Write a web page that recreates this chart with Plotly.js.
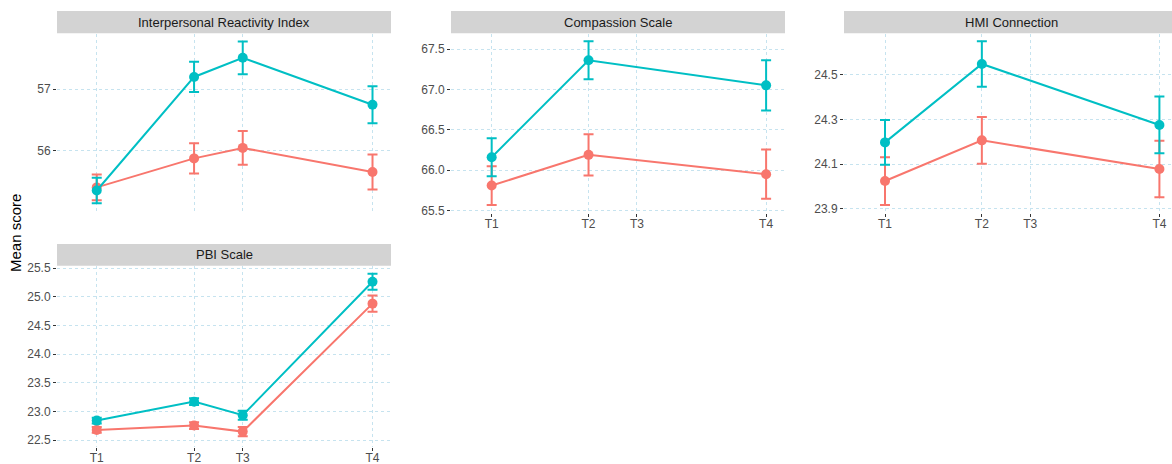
<!DOCTYPE html>
<html>
<head>
<meta charset="utf-8">
<script src="https://cdn.plot.ly/plotly-3.0.1.min.js"></script>
<style>html,body{margin:0;padding:0;background:#fff;}#chart{width:1172px;height:464px;}</style>
</head>
<body>
<div id="chart"></div>
<script>
// ---- data ----
const timeLabels = ['T1', 'T2', 'T3', 'T4'];
const timeWeeks = [0, 6, 9, 17];
const timeWeeks3 = [0, 6, 17];

const panelTitles = ['Interpersonal Reactivity Index', 'Compassion Scale', 'HMI Connection', 'PBI Scale'];

const iriRed = [55.41, 55.88, 56.05, 55.66];
const iriRedErr = [0.21, 0.245, 0.275, 0.285];
const iriTeal = [55.36, 57.20, 57.51, 56.75];
const iriTealErr = [0.205, 0.245, 0.265, 0.30];

const compRed = [65.81, 66.19, 65.95];
const compRedErr = [0.24, 0.255, 0.305];
const compTeal = [66.16, 67.36, 67.05];
const compTealErr = [0.235, 0.235, 0.31];

const hmiRed = [24.024, 24.206, 24.078];
const hmiRedErr = [0.107, 0.105, 0.126];
const hmiTeal = [24.197, 24.548, 24.275];
const hmiTealErr = [0.10, 0.102, 0.127];

const pbiRed = [22.68, 22.755, 22.65, 24.883];
const pbiRedErr = [0.05, 0.06, 0.08, 0.14];
const pbiTeal = [22.842, 23.173, 22.936, 25.266];
const pbiTealErr = [0.05, 0.06, 0.08, 0.14];

const RED = '#F8766D', TEAL = '#00BFC4';

function tr(x, y, err, color, ax) {
  return {
    type: 'scatter', mode: 'lines+markers', x: x, y: y,
    xaxis: 'x' + ax, yaxis: 'y' + ax, showlegend: false, hoverinfo: 'skip',
    line: {color: color, width: 2},
    marker: {color: color, size: 10},
    error_y: {type: 'data', array: err, visible: true, color: color, thickness: 2, width: 5}
  };
}

const data = [
  tr(timeWeeks, iriRed, iriRedErr, RED, ''),
  tr(timeWeeks, iriTeal, iriTealErr, TEAL, ''),
  tr(timeWeeks3, compRed, compRedErr, RED, '2'),
  tr(timeWeeks3, compTeal, compTealErr, TEAL, '2'),
  tr(timeWeeks3, hmiRed, hmiRedErr, RED, '3'),
  tr(timeWeeks3, hmiTeal, hmiTealErr, TEAL, '3'),
  tr(timeWeeks, pbiRed, pbiRedErr, RED, '4'),
  tr(timeWeeks, pbiTeal, pbiTealErr, TEAL, '4')
];

const W = 1172, H = 464;
const fx = p => p / W;
const fy = p => (H - p) / H;

const gridCol = '#c6e3ef';
const tickFont = {family: 'Liberation Sans, Arial, sans-serif', size: 12, color: '#4d4d4d'};

function xax(d0, d1, range, showLabels, anchor) {
  return {
    domain: [fx(d0), fx(d1)], range: range, anchor: anchor,
    tickmode: 'array', tickvals: timeWeeks, ticktext: timeLabels,
    showticklabels: showLabels, ticks: showLabels ? 'outside' : '', ticklen: 3, tickcolor: '#333',
    ticklabelstandoff: -3,
    showgrid: true, gridcolor: gridCol, griddash: 'dot', gridwidth: 1,
    zeroline: false, showline: false, tickfont: tickFont, fixedrange: true
  };
}
function yax(t0, t1, range, tickvals, ticktext, anchor) {
  return {
    domain: [fy(t1), fy(t0)], range: range, anchor: anchor,
    tickmode: 'array', tickvals: tickvals, ticktext: ticktext,
    ticks: 'outside', ticklen: 3, tickcolor: '#333',
    showgrid: true, gridcolor: gridCol, griddash: 'dot', gridwidth: 1,
    zeroline: false, showline: false, tickfont: tickFont, fixedrange: true
  };
}

const topT = 34, topB = 213, botT = 266, botB = 446.5;

const layout = {
  width: W, height: H,
  margin: {l: 0, r: 0, t: 0, b: 0},
  paper_bgcolor: '#fff', plot_bgcolor: '#fff',
  font: {family: 'Liberation Sans, Arial, sans-serif'},
  xaxis: xax(57, 391, [-2.45, 18.14], false, 'y'),
  yaxis: yax(topT, topB, [54.995, 57.896], [56, 57], ['56', '57'], 'x'),
  xaxis2: xax(451, 785, [-2.52, 18.17], true, 'y2'),
  yaxis2: yax(topT, topB, [65.47, 67.686], [65.5, 66, 66.5, 67, 67.5], ['65.5', '66.0', '66.5', '67.0', '67.5'], 'x2'),
  xaxis3: xax(844, 1172, [-2.54, 17.78], true, 'y3'),
  yaxis3: yax(topT, topB, [23.881, 24.682], [23.9, 24.1, 24.3, 24.5], ['23.9', '24.1', '24.3', '24.5'], 'x3'),
  xaxis4: xax(57, 391, [-2.45, 18.14], true, 'y4'),
  yaxis4: yax(botT, botB, [22.39, 25.54], [22.5, 23, 23.5, 24, 24.5, 25, 25.5], ['22.5', '23.0', '23.5', '24.0', '24.5', '25.0', '25.5'], 'x4'),
  shapes: [],
  annotations: []
};

const strips = [
  [57, 391, 11, 33.3, panelTitles[0]],
  [451, 785, 11, 33.3, panelTitles[1]],
  [844, 1172, 11, 33.3, panelTitles[2]],
  [57, 391, 244, 265.7, panelTitles[3]]
];
const stripCenters = [224, 618, 1011, 224];
strips.forEach((s, i) => {
  layout.shapes.push({type: 'rect', xref: 'paper', yref: 'paper', x0: fx(s[0]), x1: fx(s[1]), y0: fy(s[3]), y1: fy(s[2]),
    fillcolor: '#d3d3d3', line: {width: 0}, layer: 'below'});
  layout.annotations.push({xref: 'paper', yref: 'paper', x: fx(stripCenters[i]), y: fy((s[2] + s[3]) / 2),
    xanchor: 'center', yanchor: 'middle', showarrow: false, text: s[4],
    font: {family: 'Liberation Sans, Arial, sans-serif', size: 13, color: '#1a1a1a'}});
});
layout.annotations.push({xref: 'paper', yref: 'paper', x: fx(15), y: fy(233), xanchor: 'center', yanchor: 'middle',
  showarrow: false, text: 'Mean score', textangle: -90,
  font: {family: 'Liberation Sans, Arial, sans-serif', size: 15, color: '#000'}});

Plotly.newPlot('chart', data, layout, {staticPlot: true, displayModeBar: false});
</script>
</body>
</html>
